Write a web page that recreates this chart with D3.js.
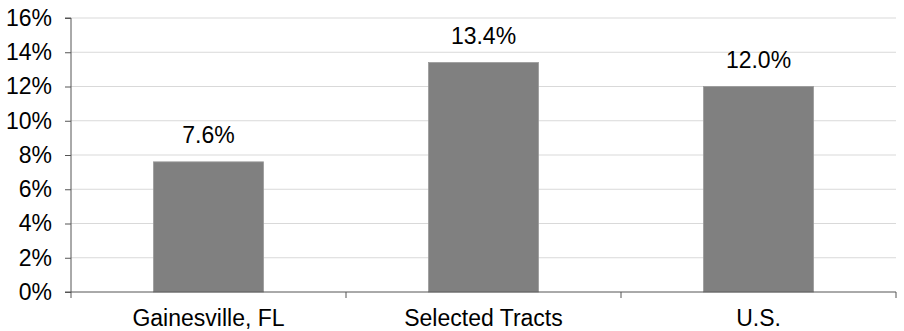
<!DOCTYPE html>
<html>
<head>
<meta charset="utf-8">
<script src="https://cdn.jsdelivr.net/npm/d3@7"></script>
<style>
  html, body { margin: 0; padding: 0; background: #fff; }
  svg { display: block; font-family: "Liberation Sans", Arial, sans-serif; }
</style>
</head>
<body>
<svg id="chart" width="904" height="331"></svg>
<script>
// Share of population by area (percent)
const categories = ["Gainesville, FL", "Selected Tracts", "U.S."];
const values = [7.6, 13.4, 12.0];
const yTicks = [0, 2, 4, 6, 8, 10, 12, 14, 16];

const svg = d3.select("#chart");
const margin = { left: 71, right: 8, top: 18, bottom: 39 };
const W = 904, H = 331;
const x0 = margin.left, x1 = W - margin.right;
const y0 = H - margin.bottom, y1 = margin.top;
const fontSize = 23;

const x = d3.scaleBand().domain(categories).range([x0, x1]).paddingInner(0.6).paddingOuter(0.3);
const y = d3.scaleLinear().domain([0, 16]).range([y0, y1]);

// horizontal gridlines
svg.append("g").selectAll("line").data(yTicks.filter(d => d > 0)).join("line")
  .attr("x1", x0).attr("x2", x1)
  .attr("y1", d => y(d)).attr("y2", d => y(d))
  .attr("stroke", "#d9d9d9").attr("stroke-width", 1);

// bars
svg.append("g").selectAll("rect").data(values).join("rect")
  .attr("x", (d, i) => x(categories[i]))
  .attr("width", x.bandwidth())
  .attr("y", d => y(d))
  .attr("height", d => y(0) - y(d))
  .attr("fill", "#808080")
  .attr("stroke", "#9a9a9a").attr("stroke-width", 0.8);

// value labels
svg.append("g").selectAll("text").data(values).join("text")
  .attr("x", (d, i) => x(categories[i]) + x.bandwidth() / 2)
  .attr("y", d => y(d) - 18.5)
  .attr("text-anchor", "middle")
  .attr("font-size", fontSize)
  .attr("fill", "#000")
  .text(d => d.toFixed(1) + "%");

// y axis
const yAxis = d3.axisLeft(y).tickValues(yTicks).tickSize(6).tickPadding(13)
  .tickFormat(d => d + "%");
const gy = svg.append("g").attr("transform", `translate(${x0},0)`).call(yAxis);
gy.select(".domain").attr("stroke", "#555").attr("d", `M-6,${y1}H0V${y0}H-6`);
gy.selectAll(".tick line").attr("stroke", "#555");
gy.selectAll(".tick text").attr("font-size", fontSize).attr("font-family", "Liberation Sans, Arial, sans-serif").attr("fill", "#000");

// x axis with ticks on category boundaries
const step = (x1 - x0) / categories.length;
const gx = svg.append("g").attr("transform", `translate(0,${y0})`);
gx.append("line").attr("x1", x0).attr("x2", x1).attr("stroke", "#555");
gx.selectAll("line.tk").data(d3.range(categories.length + 1)).join("line")
  .attr("class", "tk")
  .attr("x1", i => x0 + i * step).attr("x2", i => x0 + i * step)
  .attr("y1", 0).attr("y2", 6).attr("stroke", "#555");
gx.selectAll("text").data(categories).join("text")
  .attr("x", d => x(d) + x.bandwidth() / 2)
  .attr("y", 34)
  .attr("text-anchor", "middle")
  .attr("font-size", fontSize)
  .attr("fill", "#000")
  .text(d => d);
</script>
</body>
</html>
